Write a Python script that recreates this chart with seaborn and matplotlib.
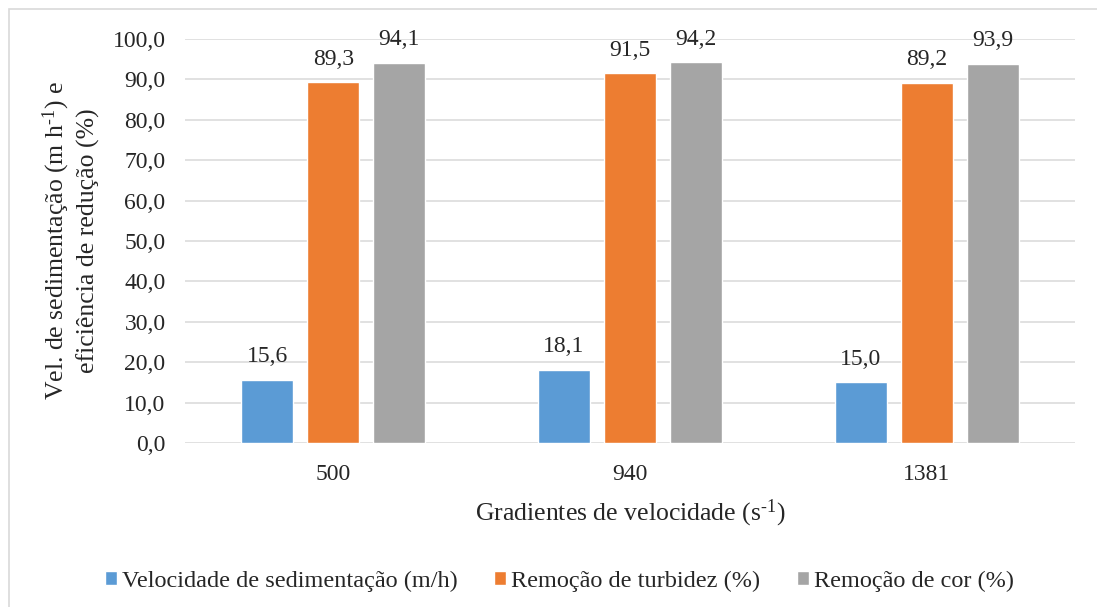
import matplotlib
matplotlib.use("Agg")
import matplotlib.pyplot as plt
from matplotlib.patches import Rectangle
import seaborn as sns
import pandas as pd

gradients = ["500", "940", "1381"]
series_names = ["Velocidade de sedimentação (m/h)",
                "Remoção de turbidez (%)",
                "Remoção de cor (%)"]
vel_sed = [15.6, 18.1, 15.0]
rem_turb = [89.3, 91.5, 89.2]
rem_cor = [94.1, 94.2, 93.9]
colors = ["#5B9BD5", "#ED7D31", "#A5A5A5"]
y_ticks = [0, 10, 20, 30, 40, 50, 60, 70, 80, 90, 100]

sns.set_theme(style="white")
plt.rcParams["font.family"] = "serif"
plt.rcParams["font.serif"] = ["Liberation Serif", "DejaVu Serif"]
plt.rcParams["mathtext.fontset"] = "custom"
plt.rcParams["mathtext.rm"] = "Liberation Serif"

rows = []
for name, vals in zip(series_names, [vel_sed, rem_turb, rem_cor]):
    for g, v in zip(gradients, vals):
        rows.append({"Gradiente": g, "Série": name, "Valor": v})
df = pd.DataFrame(rows)

W, H = 1097, 607
fig = plt.figure(figsize=(W / 100, H / 100), dpi=100)
fig.patches.append(Rectangle((9 / W, -0.1), 1.2, 1 - 9 / H + 0.1,
                             transform=fig.transFigure, fill=False,
                             edgecolor="#D9D9D9", linewidth=1.2))

ax = fig.add_axes([185 / W, (H - 443) / H, 890 / W, 404 / H])
sns.barplot(data=df, x="Gradiente", y="Valor", hue="Série",
            order=gradients, hue_order=series_names, palette=colors,
            width=0.667, gap=0.21, saturation=1, ax=ax, legend=True)

ax.set_ylim(0, 100)
ax.set_yticks(y_ticks)
ax.set_yticklabels([f"{t:.1f}".replace(".", ",") for t in y_ticks], fontsize=17)
ax.tick_params(axis="x", labelsize=17, length=0, pad=15)
ax.tick_params(axis="y", length=0, pad=14)
ax.yaxis.grid(True, color="#D9D9D9", linewidth=1.1)
ax.set_axisbelow(True)
for s in ax.spines.values():
    s.set_visible(False)

for cont in ax.containers:
    ax.bar_label(cont, labels=[f"{b.get_height():.1f}".replace(".", ",") for b in cont],
                 padding=9, fontsize=17)

sup = r"$\mathregular{^{\text{-}1}}$"
ax.set_xlabel("Gradientes de velocidade (s" + sup + ")", fontsize=18.5, labelpad=9)
ax.set_ylabel("Vel. de sedimentação (m h" + sup + ") e\neficiência de redução (%)",
              fontsize=18.5, labelpad=9, linespacing=1.25)

handles, labels = ax.get_legend_handles_labels()
ax.get_legend().remove()
fig.legend(handles, labels, loc="center", bbox_to_anchor=(0.51, 1 - 581 / H),
           ncol=3, frameon=False, fontsize=17.5, handlelength=0.5, handleheight=0.5,
           handletextpad=0.2, columnspacing=1.5)

fig.savefig("out.png", dpi=100)
